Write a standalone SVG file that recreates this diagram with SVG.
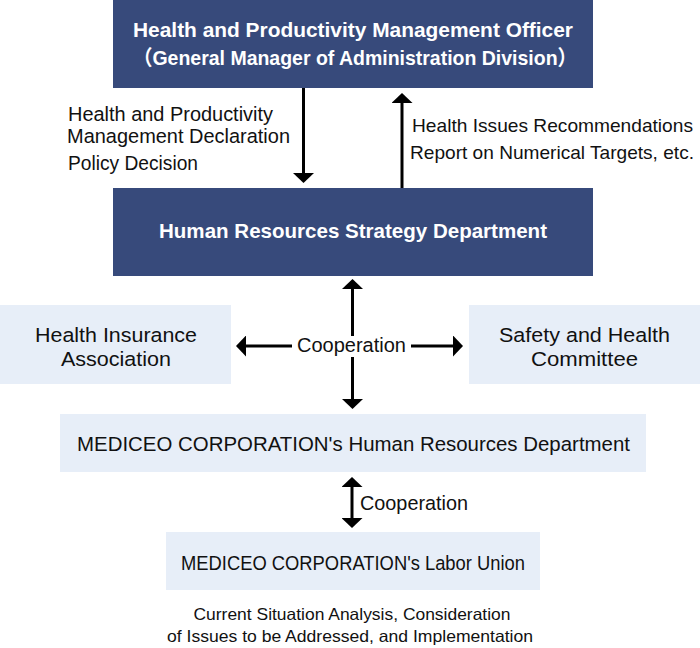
<svg xmlns="http://www.w3.org/2000/svg" width="700" height="648" viewBox="0 0 700 648">
  <style>
    .dark { fill: #374a7b; }
    .light { fill: #e7eef8; }
    .tw { fill: #ffffff; font-family: "Liberation Sans", "Noto Sans CJK JP", sans-serif; font-weight: bold; font-size: 21px; text-anchor: middle; }
    .t { fill: #111111; font-family: "Liberation Sans", sans-serif; font-size: 20.5px; }
    .m { text-anchor: middle; }
    .s { font-size: 16.5px; }
    .r { font-size: 19px; }
    .con line { stroke: #000000; stroke-width: 3; fill: none; }
  </style>
  <defs>
    <marker id="ah" markerUnits="userSpaceOnUse" markerWidth="10" markerHeight="21" refX="5" refY="10.5" orient="auto-start-reverse" viewBox="0 0 10 21">
      <path d="M0,0 L10,10.5 L0,21 Z" fill="#000000"/>
    </marker>
  </defs>

  <g id="officer">
    <rect class="dark" x="113" y="0" width="480" height="88"/>
    <text class="tw" x="353" y="37" textLength="440" lengthAdjust="spacingAndGlyphs">Health and Productivity Management Officer</text>
    <text class="tw" x="355" y="65" textLength="444" lengthAdjust="spacingAndGlyphs">（General Manager of Administration Division）</text>
  </g>

  <g id="hr-strategy">
    <rect class="dark" x="113" y="188" width="480" height="88"/>
    <text class="tw" x="353" y="238" textLength="388" lengthAdjust="spacingAndGlyphs">Human Resources Strategy Department</text>
  </g>

  <g id="health-insurance">
    <rect class="light" x="0" y="305" width="231" height="79"/>
    <text class="t m" x="116" y="342" textLength="162" lengthAdjust="spacingAndGlyphs">Health Insurance</text>
    <text class="t m" x="116" y="366" textLength="110" lengthAdjust="spacingAndGlyphs">Association</text>
  </g>

  <g id="safety-health">
    <rect class="light" x="469" y="305" width="231" height="79"/>
    <text class="t m" x="584.5" y="342" textLength="171" lengthAdjust="spacingAndGlyphs">Safety and Health</text>
    <text class="t m" x="584.5" y="366" textLength="107" lengthAdjust="spacingAndGlyphs">Committee</text>
  </g>

  <g id="mediceo-hr">
    <rect class="light" x="60" y="414" width="586" height="58"/>
    <text class="t m" x="353.5" y="451" font-size="22" textLength="553" lengthAdjust="spacingAndGlyphs">MEDICEO CORPORATION's Human Resources Department</text>
  </g>

  <g id="labor-union">
    <rect class="light" x="166" y="532" width="374" height="58"/>
    <text class="t m" x="353" y="570" font-size="22" textLength="344" lengthAdjust="spacingAndGlyphs">MEDICEO CORPORATION's Labor Union</text>
  </g>

  <g id="labels">
    <text class="t" x="68" y="121" textLength="205" lengthAdjust="spacingAndGlyphs">Health and Productivity</text>
    <text class="t" x="67" y="143" textLength="223" lengthAdjust="spacingAndGlyphs">Management Declaration</text>
    <text class="t" x="68" y="170" textLength="130" lengthAdjust="spacingAndGlyphs">Policy Decision</text>
    <text class="t r" x="412" y="132" textLength="281" lengthAdjust="spacingAndGlyphs">Health Issues Recommendations</text>
    <text class="t r" x="410" y="159" textLength="284" lengthAdjust="spacingAndGlyphs">Report on Numerical Targets, etc.</text>
    <text class="t m" x="351.5" y="352" textLength="109" lengthAdjust="spacingAndGlyphs">Cooperation</text>
    <text class="t" x="360" y="510" textLength="108" lengthAdjust="spacingAndGlyphs">Cooperation</text>
    <text class="t s m" x="352" y="620" textLength="317" lengthAdjust="spacingAndGlyphs">Current Situation Analysis, Consideration</text>
    <text class="t s m" x="350" y="642" textLength="366" lengthAdjust="spacingAndGlyphs">of Issues to be Addressed, and Implementation</text>
  </g>

  <g id="connectors" class="con">
    <line x1="303.5" y1="88" x2="303.5" y2="178" marker-end="url(#ah)"/>
    <line x1="402" y1="188" x2="402" y2="98" marker-end="url(#ah)"/>
    <line x1="352.5" y1="284" x2="352.5" y2="336" marker-start="url(#ah)"/>
    <line x1="352.5" y1="357" x2="352.5" y2="404" marker-end="url(#ah)"/>
    <line x1="292" y1="346" x2="241" y2="346" marker-end="url(#ah)"/>
    <line x1="411" y1="346" x2="458" y2="346" marker-end="url(#ah)"/>
    <line x1="352" y1="482" x2="352" y2="523" marker-start="url(#ah)" marker-end="url(#ah)"/>
  </g>
</svg>
